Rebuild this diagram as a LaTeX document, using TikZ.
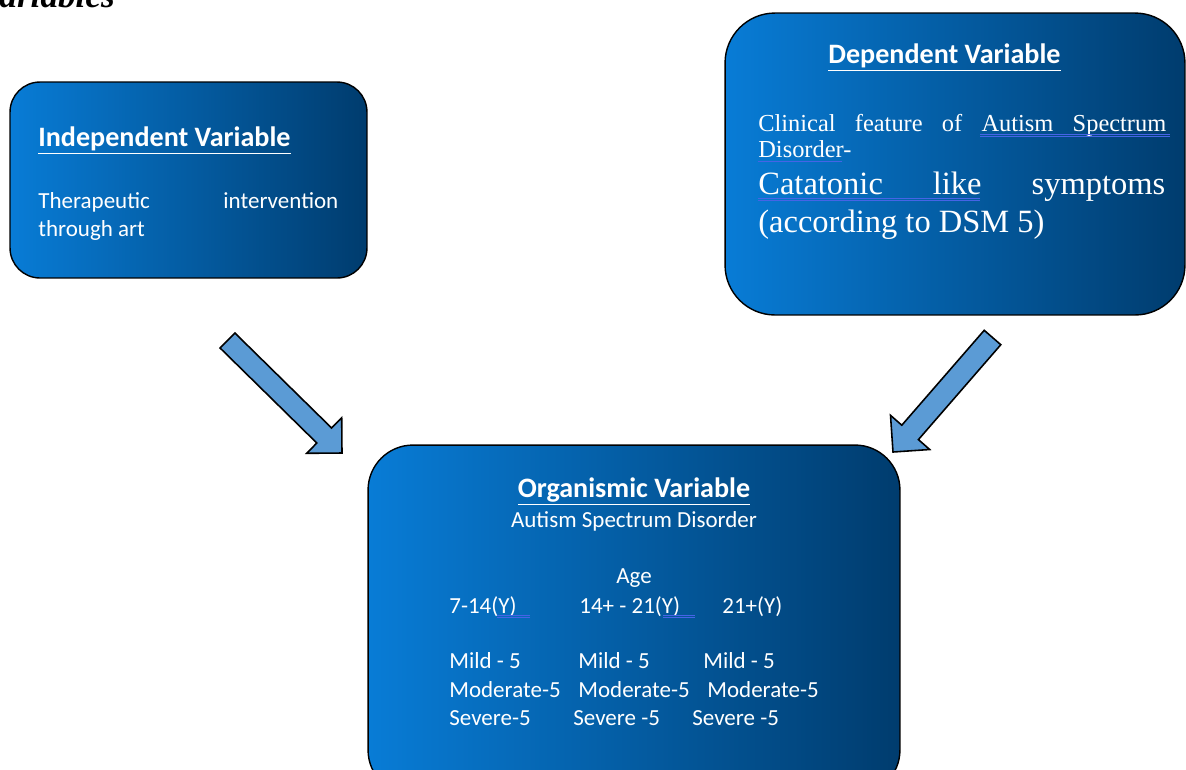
\documentclass[tikz,border=0pt]{standalone}
\usepackage{fontspec}
\setmainfont{Liberation Serif}
\newfontfamily\calibri{Carlito}
\usepackage{tikz}
\usetikzlibrary{positioning}
\definecolor{boxleft}{RGB}{8,124,214}
\definecolor{boxmid}{RGB}{2,104,184}
\definecolor{boxright}{RGB}{0,60,110}
\definecolor{arrowblue}{RGB}{91,155,213}
\definecolor{spellblue}{RGB}{70,100,230}
\tikzset{
	varbox/.style={draw=black, line width=0.8pt, left color=boxleft, middle color=boxmid, right color=boxright, inner sep=0pt},
	head/.style={text=white, inner sep=0pt, font=\calibri\bfseries\fontsize{16}{19}\selectfont},
	body/.style={text=white, inner sep=0pt, font=\calibri\fontsize{13.1}{16}\selectfont},
	serifbody/.style={text=white, inner sep=0pt, font=\fontsize{13.9}{16}\selectfont},
	seriflarge/.style={text=white, inner sep=0pt, font=\fontsize{18.5}{22}\selectfont},
	blockarrow/.style={draw=black, line width=0.9pt, fill=arrowblue, line join=miter},
	spell/.style={draw=spellblue, line width=0.4pt}
}

\begin{document}
\begin{tikzpicture}[x=0.02cm, y=-0.02cm]
	\useasboundingbox (0,0) rectangle (1186,769);
	\clip (0,0) rectangle (1186,769);

	% heading cut off at the top of the page
	\node[anchor=base east, inner sep=0pt, font=\bfseries\itshape\fontsize{20}{24}\selectfont] (title) at (115,7) {Variables};

	% the three boxes
	\node[varbox, minimum width=7.14cm, minimum height=3.92cm, rounded corners=0.6cm]	(IV)	at	(188.5,180)	{};
	\node[varbox, minimum width=9.2cm, minimum height=6.04cm, rounded corners=1cm]	(DV)	at	(955,164)	{};
	\node[varbox, minimum width=10.64cm, minimum height=7cm, rounded corners=0.9cm]	(OV)	at	(634,620)	{};

	% independent variable
	\node[head, anchor=base west]	(IVh)	at	(38,146)	{\underline{Independent Variable}};
	\node[body, anchor=base west]	(IV1)	at	(38,208)	{\makebox[6cm][s]{Therapeutic\hfill intervention}};
	\node[body, anchor=base west]	(IV2)	at	(38,236)	{through art};

	% dependent variable
	\node[head, anchor=base west]	(DVh)	at	(828,63)	{\underline{Dependent Variable}};
	\node[serifbody, anchor=base west]	(DV1)	at	(758,131)	{\makebox[8.16cm][s]{Clinical\hfill feature\hfill of\hfill Autism\hfill Spectrum}};
	\node[serifbody, anchor=base west]	(DV2)	at	(758,157)	{Disorder-};
	\node[seriflarge, anchor=base west]	(DV3)	at	(758,194)	{\makebox[8.14cm][s]{Catatonic\hfill like\hfill symptoms}};
	\node[seriflarge, anchor=base west]	(DV4)	at	(758,232)	{(according to DSM 5)};
	\draw[spell] (980,134.5) -- (1170,134.5);
	\draw[spell] (980,136.5) -- (1170,136.5);
	\draw[spell] (758,161) -- (842,161);
	\draw[spell] (758,198) -- (980,198);
	\draw[spell] (758,200) -- (980,200);

	% organismic variable
	\node[head, anchor=base]	(OVh)	at	(634,497)	{\underline{Organismic Variable}};
	\node[body, anchor=base]	(OV1)	at	(634,527)	{Autism Spectrum Disorder};
	\node[body, anchor=base west]	(age)	at	(616,583)	{Age};
	\node[body, anchor=base west]	(A1)	at	(449,613)	{7-14(Y)};
	\node[body, anchor=base west]	(A2)	at	(579,613)	{14+ - 21(Y)};
	\node[body, anchor=base west]	(A3)	at	(722,613)	{21+(Y)};
	\draw[spell] (497,615.5) -- (530,615.5);
	\draw[spell] (497,617.5) -- (530,617.5);
	\draw[spell] (663,615.5) -- (695,615.5);
	\draw[spell] (663,617.5) -- (695,617.5);
	\node[body, anchor=base west]	(M1)	at	(449,668)	{Mild - 5};
	\node[body, anchor=base west]	(M2)	at	(578,668)	{Mild - 5};
	\node[body, anchor=base west]	(M3)	at	(703,668)	{Mild - 5};
	\node[body, anchor=base west]	(Mo1)	at	(449,697)	{Moderate-5};
	\node[body, anchor=base west]	(Mo2)	at	(578,697)	{Moderate-5};
	\node[body, anchor=base west]	(Mo3)	at	(707,697)	{Moderate-5};
	\node[body, anchor=base west]	(S1)	at	(449,725)	{Severe-5};
	\node[body, anchor=base west]	(S2)	at	(573,725)	{Severe -5};
	\node[body, anchor=base west]	(S3)	at	(692,725)	{Severe -5};

	% block arrows into the organismic box
	\draw[blockarrow] (234.9,333) -- (331.6,428) -- (341.7,417.7) -- (342,453) -- (306.7,453.3) -- (316.8,443) -- (220.1,348) -- cycle;
	\draw[blockarrow] (984.2,330.3) -- (901.8,425.2) -- (890.5,415.3) -- (893,452) -- (929.7,449.5) -- (918.4,439.6) -- (1000.8,344.7) -- cycle;
\end{tikzpicture}
\end{document}
